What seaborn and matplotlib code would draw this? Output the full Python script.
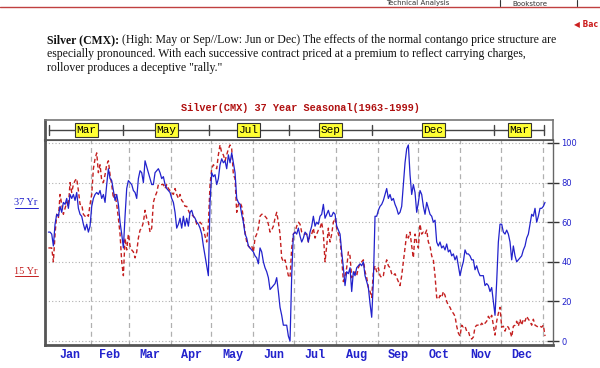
import matplotlib
matplotlib.use("Agg")
import matplotlib.pyplot as plt
from matplotlib.lines import Line2D
import seaborn as sns
import numpy as np
import pandas as pd

# seasonal index, 37 year (1963-1999), evenly spaced through the year
yr37 = [55, 55, 54, 48, 59, 64, 63, 68, 65, 70, 69, 72, 67, 74, 72, 74, 71, 75, 67, 64,
        63, 59, 56, 59, 55, 58, 68, 72, 74, 75, 74, 76, 72, 74, 70, 79, 87, 82, 81, 76,
        71, 74, 69, 60, 54, 47, 63, 77, 81, 80, 79, 76, 75, 72, 82, 86, 85, 80, 91, 88,
        85, 82, 79, 79, 85, 86, 87, 85, 82, 83, 79, 77, 76, 75, 72, 70, 65, 57, 59, 62,
        57, 63, 58, 62, 58, 65, 66, 63, 62, 60, 59, 57, 54, 48, 43, 38, 33, 70, 85, 83,
        84, 79, 82,
        89, 92, 90, 91, 87, 94, 90, 95, 90, 85, 72, 70, 69, 64, 60, 54, 52, 48, 47, 46,
        45, 43, 42, 39, 47, 45, 40, 37, 35, 32, 26, 27, 28, 29, 32, 25, 17, 13, 8, 8,
        8, 2.5, 0, 33, 54, 55, 54, 57, 53, 50, 52, 55, 54, 50, 55, 58, 63, 58, 60, 59,
        63, 64, 69, 62, 64, 66, 63, 63, 65, 64, 58, 56, 54, 45, 37, 28, 35, 34, 37, 25,
        35, 33, 37, 38, 39, 38, 40, 33, 30, 27, 19, 12, 30, 63, 63, 66, 68, 69, 71,
        74, 77, 72, 74, 71, 72, 69, 67, 64, 65, 68, 79, 90, 97, 99, 84, 74, 79, 75, 65,
        70, 76, 74, 68, 64, 70, 67, 64, 63, 60, 61, 50, 48, 50, 47, 48, 46, 49, 45, 46,
        43, 44, 41, 43, 38, 33, 37, 40, 46, 44, 44, 43, 41, 41, 36, 38, 35, 33, 33, 33,
        28, 29, 28, 25, 27, 20, 13, 30, 50, 59, 59, 55, 54, 56, 54, 50, 41, 48, 43, 40,
        41, 42, 43, 46, 48, 52, 54, 59, 64, 63, 67, 60, 63, 67, 67, 68, 70]

# seasonal index, 15 year
yr15 = [47, 47, 47, 40, 54, 64, 62, 74, 69, 64, 67, 70, 68, 80, 75, 79, 81, 82, 76, 69,
        69, 64, 63, 64, 63, 69, 74, 87, 92, 95, 85, 89, 81, 80, 84, 89, 91, 84, 79, 72,
        74, 69, 62, 54, 40, 33, 52, 46, 54, 48, 46, 45, 42, 45, 52, 56, 57, 60, 66, 62,
        60, 55, 57, 70, 73, 75, 79, 79, 79, 79, 77, 79, 77, 76, 75, 74, 77, 74, 72, 74,
        71, 70, 68, 68, 66, 64, 64, 63, 62, 59, 59, 60, 59, 57, 53, 50, 59, 79, 87, 89,
        88, 87, 94,
        99, 95, 94, 91, 94, 97, 99, 97, 84, 82, 65, 69, 70, 68, 62, 55, 50, 48, 47, 48,
        45, 52, 54, 57, 63, 64, 64, 63, 62, 59, 55, 56, 58, 62, 65, 60, 54, 42, 40, 41,
        37, 33, 32, 47, 54, 55, 58, 60, 59, 55, 54, 54, 54, 50, 54, 54, 57, 52, 54, 56,
        57, 60, 54, 40, 48, 57, 50, 54, 60, 62, 57, 54, 52, 42, 30, 33, 37, 45, 43, 32,
        33, 35, 33, 37, 39, 40, 41, 35, 32, 27, 25, 22, 35, 38, 35, 37, 33, 32, 33,
        38, 41, 38, 37, 34, 33, 34, 32, 30, 28, 33, 40, 47, 54, 52, 55, 48, 42, 54, 50,
        47, 59, 54, 55, 54, 56, 50, 48, 43, 41, 33, 22, 21, 23, 22, 25, 23, 20, 18, 17,
        15, 14, 12.5, 7.5, 4, 2.5, 8, 7, 7.5, 5, 5, 2, 1, 2, 7, 8, 8, 7.5, 9, 8,
        9, 10, 12.5, 11, 13, 8, 3, 10, 14, 17, 7, 7.5, 5, 7.5, 7, 5, 2, 7.5, 8, 10,
        7.5, 11, 8, 11, 10, 12.5, 11, 10, 8, 11, 8, 7.5, 7, 7.5, 7, 8, 2.5]

months = ["Jan", "Feb", "Mar", "Apr", "May", "Jun", "Jul", "Aug", "Sep", "Oct", "Nov", "Dec"]
month_starts = [0, 31, 59, 90, 120, 151, 181, 212, 243, 273, 304, 334, 365]

# contract strip: roll days and the contract month in force between them
roll_days = [0, 55, 118, 177, 239, 329, 366]
contracts = ["Mar", "May", "Jul", "Sep", "Dec", "Mar"]

BLUE = "#2222cc"
RED = "#c42020"
MONO = "Liberation Mono"
SERIF = "Liberation Serif"
TXT = "#111111"

sns.set_style("white")
plt.rcParams["font.family"] = ["DejaVu Sans"]

days = np.linspace(-0.5, 366.5, len(yr37))
df = pd.DataFrame({"day": days, "37 Yr": yr37, "15 Yr": yr15})

fig = plt.figure(figsize=(6, 3.68), dpi=100)
ax = fig.add_axes([45 / 600, 23 / 368, 508 / 600, 205 / 368])
strip = fig.add_axes([45 / 600, 228 / 368, 508 / 600, 20 / 368])

# grid
for v in range(0, 101, 20):
    ax.axhline(v, color="#b0b0b0", lw=0.8, ls=(0, (1, 2)), zorder=0)
for d in month_starts[1:]:
    ax.axvline(d, color="#b0b0b0", lw=0.9, ls=(0, (4, 3)), zorder=0)

sns.lineplot(data=df, x="day", y="15 Yr", ax=ax, color=RED, lw=1.0,
             linestyle=(0, (3, 2)), zorder=2)
sns.lineplot(data=df, x="day", y="37 Yr", ax=ax, color=BLUE, lw=0.9, zorder=3)

ax.set_xlim(-3, 372.4)
ax.set_ylim(-2, 101.5)
ax.set_xlabel("")
ax.set_ylabel("")

mids = [(month_starts[i] + month_starts[i + 1]) / 2 for i in range(12)]
ax.set_xticks(mids)
ax.set_xticklabels(months, family=MONO, fontweight="bold", fontsize=8.5, color=BLUE)
ax.tick_params(axis="x", length=0, pad=3)

ax.yaxis.tick_right()
ax.set_yticks(range(0, 101, 20))
ax.tick_params(axis="y", direction="inout", length=8, width=1, color="#333333",
               labelsize=6, labelcolor=BLUE, pad=2)

for side in ["left", "bottom"]:
    ax.spines[side].set_linewidth(2)
    ax.spines[side].set_color("#555555")
ax.spines["right"].set_linewidth(1)
ax.spines["right"].set_color("#666666")
ax.spines["top"].set_linewidth(1.5)
ax.spines["top"].set_color("#555555")

# contract strip
strip.set_xlim(-3, 372.4)
strip.set_ylim(0, 1)
strip.plot([roll_days[0], roll_days[-1]], [0.5, 0.5], color="#444444", lw=1)
for d in roll_days:
    strip.plot([d, d], [0.25, 0.75], color="#444444", lw=1)
for i, name in enumerate(contracts):
    c = (roll_days[i] + roll_days[i + 1]) / 2
    strip.text(c, 0.5, name, ha="center", va="center", family=MONO, fontsize=8,
               color="black",
               bbox=dict(boxstyle="square,pad=0.15", fc="#ffff33", ec="#333333", lw=0.8))
strip.set_xticks([])
strip.set_yticks([])
for side in ["top", "left", "right"]:
    strip.spines[side].set_color("#777777")
    strip.spines[side].set_linewidth(1.2)
strip.spines["left"].set_linewidth(2)
strip.spines["left"].set_color("#555555")
strip.spines["bottom"].set_color("#555555")
strip.spines["bottom"].set_linewidth(1.2)

# chart title
fig.text(300 / 600, 1 - 108 / 368, "Silver(CMX) 37 Year Seasonal(1963-1999)",
         ha="center", va="center", family=MONO, fontweight="bold", fontsize=7.4,
         color="#b01010")

# series labels on the left
for label, yp, col in [("37 Yr", 203, BLUE), ("15 Yr", 271, RED)]:
    fig.text(26 / 600, 1 - yp / 368, label, ha="center", va="center",
             family=SERIF, fontsize=7.5, color=col)
    fig.add_artist(Line2D([15 / 600, 38 / 600], [1 - (yp + 5) / 368] * 2,
                          color=col, lw=0.7))

# description text above the chart
head = fig.text(47 / 600, 1 - 43 / 368, "Silver (CMX):", ha="left", va="baseline",
                family=SERIF, fontweight="bold", fontsize=8.5, color=TXT)
fig.text(47 / 600, 1 - 57 / 368,
         "especially pronounced. With each successive contract priced at a premium to reflect carrying charges,",
         ha="left", va="baseline", family=SERIF, fontsize=8.5, color=TXT)
fig.text(47 / 600, 1 - 71 / 368, 'rollover produces a deceptive "rally."',
         ha="left", va="baseline", family=SERIF, fontsize=8.5, color=TXT)
plt.annotate(" (High: May or Sep//Low: Jun or Dec) The effects of the normal contango price structure are",
             xy=(1, 0), xycoords=head, va="bottom", ha="left",
             annotation_clip=False, family=SERIF, fontsize=8.5, color=TXT)

# page navigation remnants
fig.add_artist(Line2D([0, 1], [1 - 7 / 368] * 2, color="#c04040", lw=1))
fig.text(418 / 600, 1 - 0.5 / 368, "Technical Analysis", ha="center", va="top",
         fontsize=5, color="#333333")
fig.text(530 / 600, 1 - 0.5 / 368, "Bookstore", ha="center", va="top",
         fontsize=5, color="#333333")
for xs in [500, 577]:
    fig.add_artist(Line2D([xs / 600] * 2, [1 - 6 / 368, 1], color="#333333", lw=0.8))
fig.text(598 / 600, 1 - 24 / 368, "\u25c0 Bac", ha="right", va="center",
         fontsize=5.5, fontweight="bold", color="#cc2020")

fig.savefig("out.png", dpi=100)
